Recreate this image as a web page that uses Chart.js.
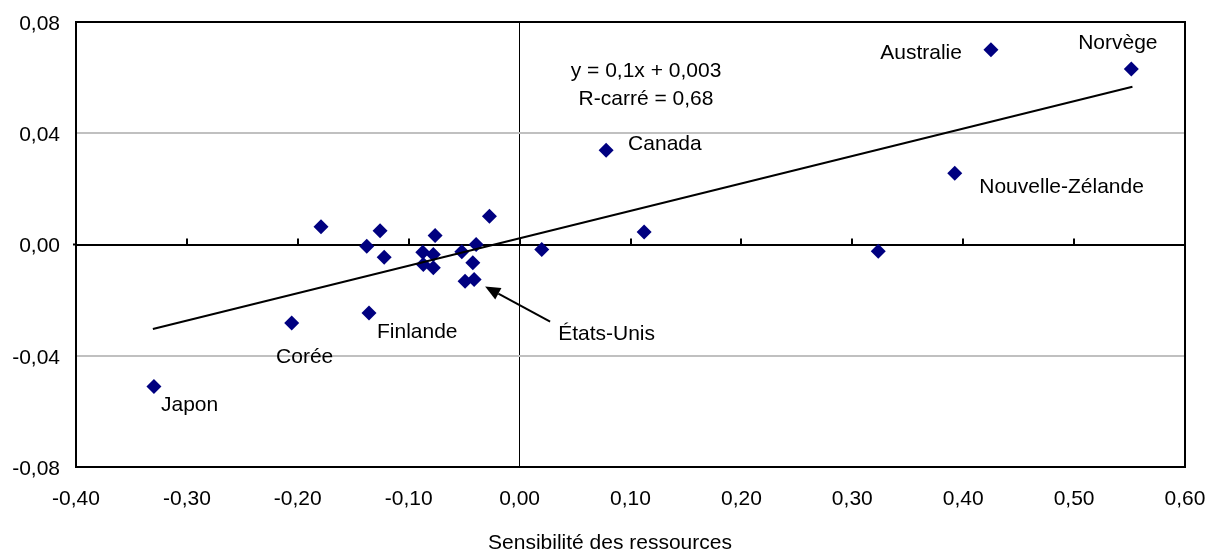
<!DOCTYPE html>
<html>
<head>
<meta charset="utf-8">
<script src="https://cdn.jsdelivr.net/npm/chart.js@4.4.1/dist/chart.umd.min.js"></script>
<style>
  html, body { margin: 0; padding: 0; background: #ffffff; }
  #wrap { width: 1208px; height: 550px; }
</style>
</head>
<body>
<div id="wrap"><canvas id="c" width="1208" height="550"></canvas></div>
<script>
// ---- Data ----
const countries = ['Japon', 'Corée', 'Finlande', '', '', '', '', '', '', '', '', '', '', '', '', '', 'États-Unis', '', '', 'Canada', '', '', 'Nouvelle-Zélande', 'Australie', 'Norvège'];
const sensitivity = [-0.3297, -0.2055, -0.1358, -0.1791, -0.1378, -0.1258, -0.1221, -0.0873, -0.0778, -0.0868, -0.0778, -0.0762, -0.0521, -0.0392, -0.0422, -0.0492, -0.0410, -0.0272, 0.0200, 0.0780, 0.1123, 0.3234, 0.3924, 0.4250, 0.5516];
const outcome = [-0.0511, -0.0282, -0.0246, 0.0064, -0.0006, 0.0049, -0.0046, -0.0028, -0.0036, -0.0072, -0.0084, 0.0032, -0.0026, 0.0000, -0.0066, -0.0132, -0.0126, 0.0102, -0.0018, 0.0339, 0.0045, -0.0024, 0.0256, 0.0700, 0.0631];
const trendX = [-0.3307, 0.5526];
const trendY = [-0.0304, 0.0567];
const equationLines = ['y = 0,1x + 0,003', 'R-carré = 0,68'];
const xTickValues = [-0.4, -0.3, -0.2, -0.1, 0, 0.1, 0.2, 0.3, 0.4, 0.5, 0.6];
const yTickValues = [-0.08, -0.04, 0, 0.04, 0.08];
const xAxisTitle = 'Sensibilité des ressources';

// ---- Layout / style (kept apart from the data) ----
const FONT = "'Liberation Sans', Arial, sans-serif";
const FS = 21;
const TEXT_SHIFT = 3; // glyph-centre correction for 'middle' baseline
const labelLayout = {
  'Japon':            { dx: 7,   dy: 16, align: 'left' },
  'Corée':            { dx: 13,  dy: 31, align: 'center' },
  'Finlande':         { dx: 8,   dy: 16, align: 'left' },
  'Canada':           { dx: 22,  dy: -9, align: 'left' },
  'Australie':        { dx: -29, dy: 0,  align: 'right' },
  'Norvège':          { dx: -13.5, dy: -29, align: 'center' },
  'Nouvelle-Zélande': { dx: 24.5, dy: 11, align: 'left' },
  'États-Unis':       { dx: 84,  dy: 52, align: 'left', arrow: { tx: 76, ty: 42, hx: 11, hy: 7 } }
};
const equationPos = { x: 0.114, y: 0.0634, lineGap: 28 };

const fmt = v => {
  if (Math.abs(v) < 1e-9) v = 0;
  return v.toFixed(2).replace('.', ',');
};

const decorPlugin = {
  id: 'decor',
  beforeDatasetsDraw(chart) {
    const { ctx, chartArea: a, scales: { x, y } } = chart;
    const y0 = y.getPixelForValue(0);
    ctx.save();
    ctx.strokeStyle = '#000';
    ctx.lineWidth = 2;
    xTickValues.forEach(v => {
      const px = Math.round(x.getPixelForValue(v));
      if (px <= a.left + 1 || px >= a.right - 1) return;
      ctx.beginPath();
      ctx.moveTo(px, y0 - 6);
      ctx.lineTo(px, y0);
      ctx.stroke();
    });
    ctx.beginPath();
    ctx.moveTo(a.left - 3, y0);
    ctx.lineTo(a.left, y0);
    ctx.stroke();
    ctx.restore();
  },
  afterDatasetsDraw(chart) {
    const { ctx, chartArea: a, scales: { x, y } } = chart;
    const meta = chart.getDatasetMeta(1);
    ctx.save();
    ctx.strokeStyle = '#000';
    ctx.lineWidth = 2;
    ctx.strokeRect(a.left, a.top, a.right - a.left, a.bottom - a.top);

    ctx.fillStyle = '#000';
    ctx.font = FS + 'px ' + FONT;
    ctx.textBaseline = 'middle';
    countries.forEach((name, i) => {
      if (!name) return;
      const L = labelLayout[name];
      const pt = meta.data[i];
      if (!L || !pt) return;
      ctx.textAlign = L.align;
      ctx.fillText(name, pt.x + L.dx, pt.y + L.dy + TEXT_SHIFT);
      if (L.arrow) {
        const tx = pt.x + L.arrow.tx, ty = pt.y + L.arrow.ty;
        const hx = pt.x + L.arrow.hx, hy = pt.y + L.arrow.hy;
        const ang = Math.atan2(hy - ty, hx - tx);
        const len = 15, half = 6.5;
        const bx = hx - len * Math.cos(ang), by = hy - len * Math.sin(ang);
        ctx.lineWidth = 2;
        ctx.beginPath();
        ctx.moveTo(tx, ty);
        ctx.lineTo(bx, by);
        ctx.stroke();
        ctx.beginPath();
        ctx.moveTo(hx, hy);
        ctx.lineTo(bx + half * Math.sin(ang), by - half * Math.cos(ang));
        ctx.lineTo(bx - half * Math.sin(ang), by + half * Math.cos(ang));
        ctx.closePath();
        ctx.fill();
      }
    });
    ctx.textAlign = 'center';
    const ex = x.getPixelForValue(equationPos.x);
    const ey = y.getPixelForValue(equationPos.y);
    equationLines.forEach((t, k) => ctx.fillText(t, ex, ey + k * equationPos.lineGap + TEXT_SHIFT));
    ctx.fillText(xAxisTitle, 610, 541 + 2);
    ctx.restore();
  }
};

new Chart(document.getElementById('c'), {
  type: 'scatter',
  data: {
    datasets: [
      {
        type: 'line',
        label: 'Tendance',
        data: trendX.map((v, i) => ({ x: v, y: trendY[i] })),
        borderColor: '#000',
        borderWidth: 2,
        pointRadius: 0,
        fill: false,
        tension: 0,
        order: 0
      },
      {
        label: 'Pays',
        data: sensitivity.map((v, i) => ({ x: v, y: outcome[i] })),
        pointStyle: 'rectRot',
        pointRadius: 7.5,
        pointHoverRadius: 7.5,
        backgroundColor: '#000080',
        borderColor: '#000080',
        borderWidth: 0,
        order: 1
      }
    ]
  },
  options: {
    responsive: false,
    animation: false,
    devicePixelRatio: 1,
    layout: { padding: { top: 22, right: 23, left: 0, bottom: 0 } },
    plugins: { legend: { display: false }, tooltip: { enabled: false } },
    scales: {
      x: {
        type: 'linear',
        min: -0.4, max: 0.6,
        afterFit: s => { s.height = 83; s.paddingLeft = 0; s.paddingRight = 0; },
        afterBuildTicks: s => { s.ticks = xTickValues.map(v => ({ value: v })); },
        border: { display: false },
        grid: {
          drawTicks: false,
          color: c => (c.tick && Math.abs(c.tick.value) < 1e-9) ? '#000' : 'rgba(0,0,0,0)',
          lineWidth: 1
        },
        ticks: {
          autoSkip: false, maxRotation: 0, minRotation: 0,
          padding: 20,
          color: '#000',
          font: { family: FONT, size: FS },
          callback: v => fmt(v)
        }
      },
      y: {
        type: 'linear',
        min: -0.08, max: 0.08,
        afterFit: s => { s.width = 76; s.paddingTop = 0; s.paddingBottom = 0; },
        afterBuildTicks: s => { s.ticks = yTickValues.map(v => ({ value: v })); },
        border: { display: false },
        grid: {
          drawTicks: false,
          color: c => {
            if (!c.tick) return 'rgba(0,0,0,0)';
            const v = c.tick.value;
            if (Math.abs(v) < 1e-9) return '#000';
            if (Math.abs(Math.abs(v) - 0.04) < 1e-9) return '#C0C0C0';
            return 'rgba(0,0,0,0)';
          },
          lineWidth: 2
        },
        ticks: {
          padding: 16,
          labelOffset: 2,
          color: '#000',
          font: { family: FONT, size: FS },
          callback: v => fmt(v)
        }
      }
    }
  },
  plugins: [decorPlugin]
});
</script>
</body>
</html>
